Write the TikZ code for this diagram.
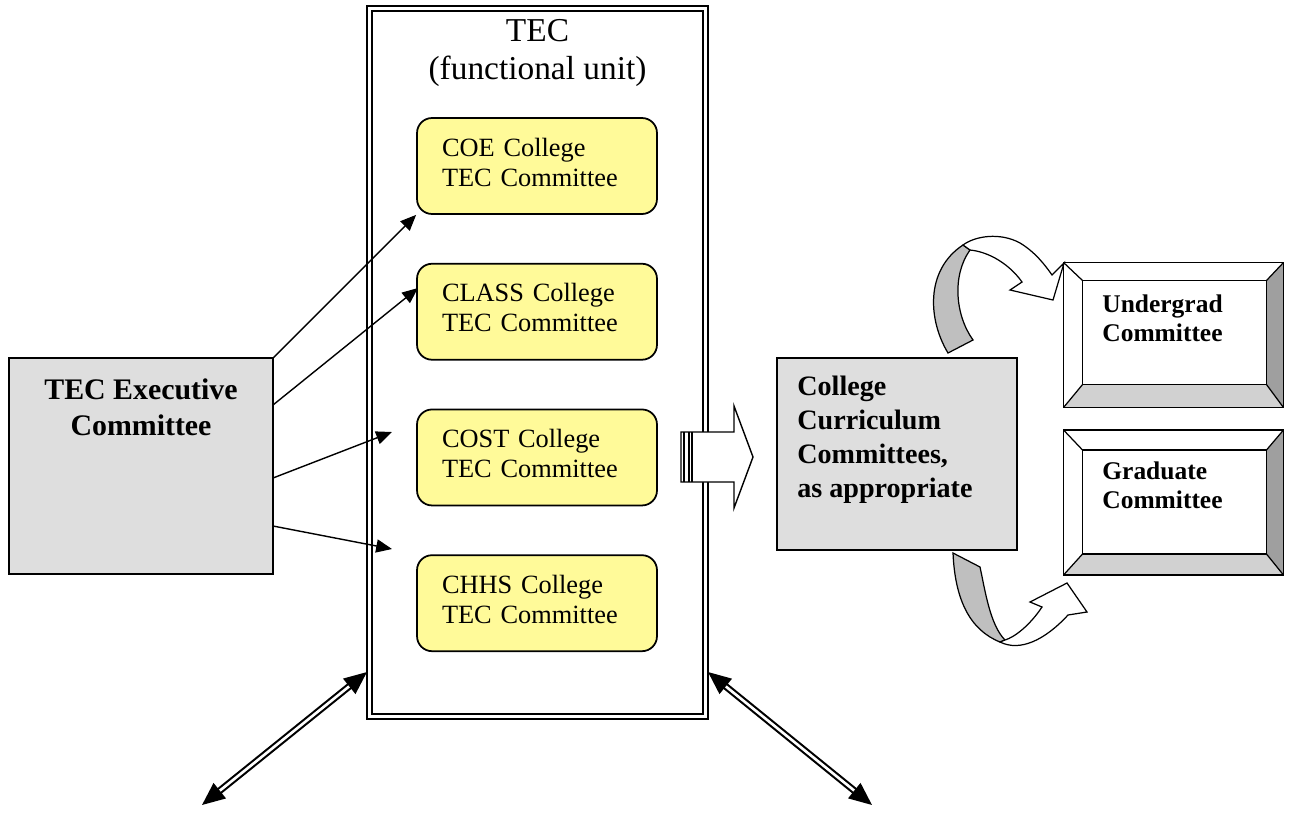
\documentclass[tikz,border=0pt]{standalone}
\usepackage{fontspec}
\setmainfont{Liberation Serif}
\usetikzlibrary{positioning,arrows.meta}
\tikzset{
  unitbox/.style  = {draw, double, line width=1.1pt, double distance=1.6pt,
                     minimum width=6.72cm, minimum height=14.16cm},
  collbox/.style  = {rectangle, rounded corners=0.3cm, draw, line width=1pt,
                     fill=yellow!40, minimum width=4.8cm, minimum height=1.92cm,
                     align=left, text width=3.8cm, inner xsep=0.5cm, text depth=21.5pt,
                     font=\fontsize{15}{17}\selectfont},
  greybox/.style  = {rectangle, draw, line width=0.8pt, fill=black!13},
  bevout/.style   = {rectangle, minimum width=4.38cm, minimum height=2.88cm},
  bevin/.style    = {rectangle, minimum width=3.66cm, minimum height=2.06cm},
  boldtext/.style = {inner sep=0pt, font=\bfseries},
  link/.style     = {line width=0.8pt, -{Triangle[length=9pt,width=7.5pt]}},
  dblarrow/.style = {double, line width=1.2pt, double distance=1.5pt,
                     {Triangle[length=13pt,width=11pt]}-{Triangle[length=13pt,width=11pt]}},
  ribbon/.style   = {line width=0.7pt, fill=black!25},
  ribbontop/.style= {line width=0.7pt, fill=white}
}
\begin{document}
\begin{tikzpicture}[x=0.02cm, y=-0.02cm]
  \useasboundingbox (0,0) rectangle (1293,818);

  % the functional unit
  \node[unitbox] (tec) at (537.5,362.5) {};
  \node[anchor=north, inner sep=0pt, align=center,
        font=\fontsize{19}{21.5}\selectfont] (tectitle) at (537.5,19) {TEC\\(functional unit)};

  \node[collbox] (coe) at (537,166) {COE College\\TEC Committee};
  \node[collbox, below=0.96cm of coe] (class) {CLASS College\\TEC Committee};
  \node[collbox, below=0.96cm of class] (cost) {COST College\\TEC Committee};
  \node[collbox, below=0.96cm of cost] (chhs) {CHHS College\\TEC Committee};

  % executive committee
  \node[greybox, minimum width=5.28cm, minimum height=4.32cm] (exec) at (141,466) {};
  \node[boldtext, anchor=north, align=center, font=\bfseries\fontsize{17}{21}\selectfont]
        (exectext) at (141,378) {TEC Executive\\Committee};

  \coordinate (s2) at (273,405);
  \coordinate (s3) at (273,478);
  \coordinate (s4) at (273,526);
  \coordinate (e2) at (418,288);
  \coordinate (e3) at (392,432);
  \coordinate (e4) at (392,549);
  \draw[link] (exec.north east) -- (coe.south west);
  \draw[link] (s2) -- (e2);
  \draw[link] (s3) -- (e3);
  \draw[link] (s4) -- (e4);

  % striped arrow to the college committees
  \filldraw[fill=white, line width=0.8pt] (681,432) -- (734,432) -- (734,406) -- (753,457)
    -- (734,508) -- (734,482) -- (681,482) -- cycle;
  \draw[line width=0.8pt] (684,432) -- (684,482);
  \draw[line width=0.8pt] (689,432) -- (689,482);
  \draw[line width=0.8pt] (692,432) -- (692,482);

  % college curriculum committees
  \node[greybox, minimum width=4.8cm, minimum height=3.84cm] (coll) at (897,454) {};
  \node[boldtext, anchor=north west, align=left, font=\bfseries\fontsize{16}{19.3}\selectfont]
        (colltext) at (797,376) {College\\Curriculum\\Committees,\\as appropriate};

  % bevelled boxes
  \node[bevout] (ugo) at (1173.5,335) {};
  \node[bevin] (ugi) at (1174.5,332.5) {};
  \node[bevout] (grado) at (1173.5,502.5) {};
  \node[bevin] (gradi) at (1174.5,502) {};
  \foreach \b in {ug,grad}{
    \fill[gray!75] (\b o.north east) -- (\b o.south east) -- (\b i.south east) -- (\b i.north east) -- cycle;
    \fill[black!18] (\b o.south west) -- (\b o.south east) -- (\b i.south east) -- (\b i.south west) -- cycle;
    \draw[line width=0.9pt] (\b o.north west) rectangle (\b o.south east);
    \draw[line width=0.8pt] (\b i.north west) rectangle (\b i.south east);
    \draw[line width=0.7pt] (\b o.north west) -- (\b i.north west)
                            (\b o.north east) -- (\b i.north east)
                            (\b o.south west) -- (\b i.south west)
                            (\b o.south east) -- (\b i.south east);
  }
  \node[boldtext, anchor=north west, align=left, font=\bfseries\fontsize{14.5}{17}\selectfont]
        (ugtext) at (1102,294) {Undergrad\\Committee};
  \node[boldtext, anchor=north west, align=left, font=\bfseries\fontsize{14.5}{17}\selectfont]
        (gradtext) at (1102,461) {Graduate\\Committee};

  % curved arrows
  \filldraw[ribbon] (948,353) .. controls (928,320) and (925,270) .. (963,245) -- (970,250)
    .. controls (952,275) and (955,315) .. (973,340) -- cycle;
  \filldraw[ribbontop] (963,245) .. controls (975,236) and (1000,232) .. (1020,243)
    .. controls (1035,252) and (1045,265) .. (1052,275) -- (1064,263) -- (1053,300)
    -- (1010,290) -- (1022,282) .. controls (1010,265) and (990,252) .. (970,250) -- cycle;

  \filldraw[ribbon] (953,553) -- (980,567) .. controls (985,590) and (990,625) .. (1005,640)
    -- (1000,642) .. controls (970,630) and (955,600) .. (953,553) -- cycle;
  \filldraw[ribbontop] (1000,642) .. controls (1020,652) and (1045,640) .. (1068,615)
    -- (1087,612) -- (1067,583) -- (1030,602) -- (1042,607)
    .. controls (1030,625) and (1015,637) .. (1005,640) -- cycle;

  % links out of the unit
  \coordinate (tl) at (367,672);
  \coordinate (bl) at (202,805);
  \coordinate (tr) at (708,672);
  \coordinate (br) at (872,805);
  \draw[dblarrow] (bl) -- (tl);
  \draw[dblarrow] (tr) -- (br);
\end{tikzpicture}
\end{document}
